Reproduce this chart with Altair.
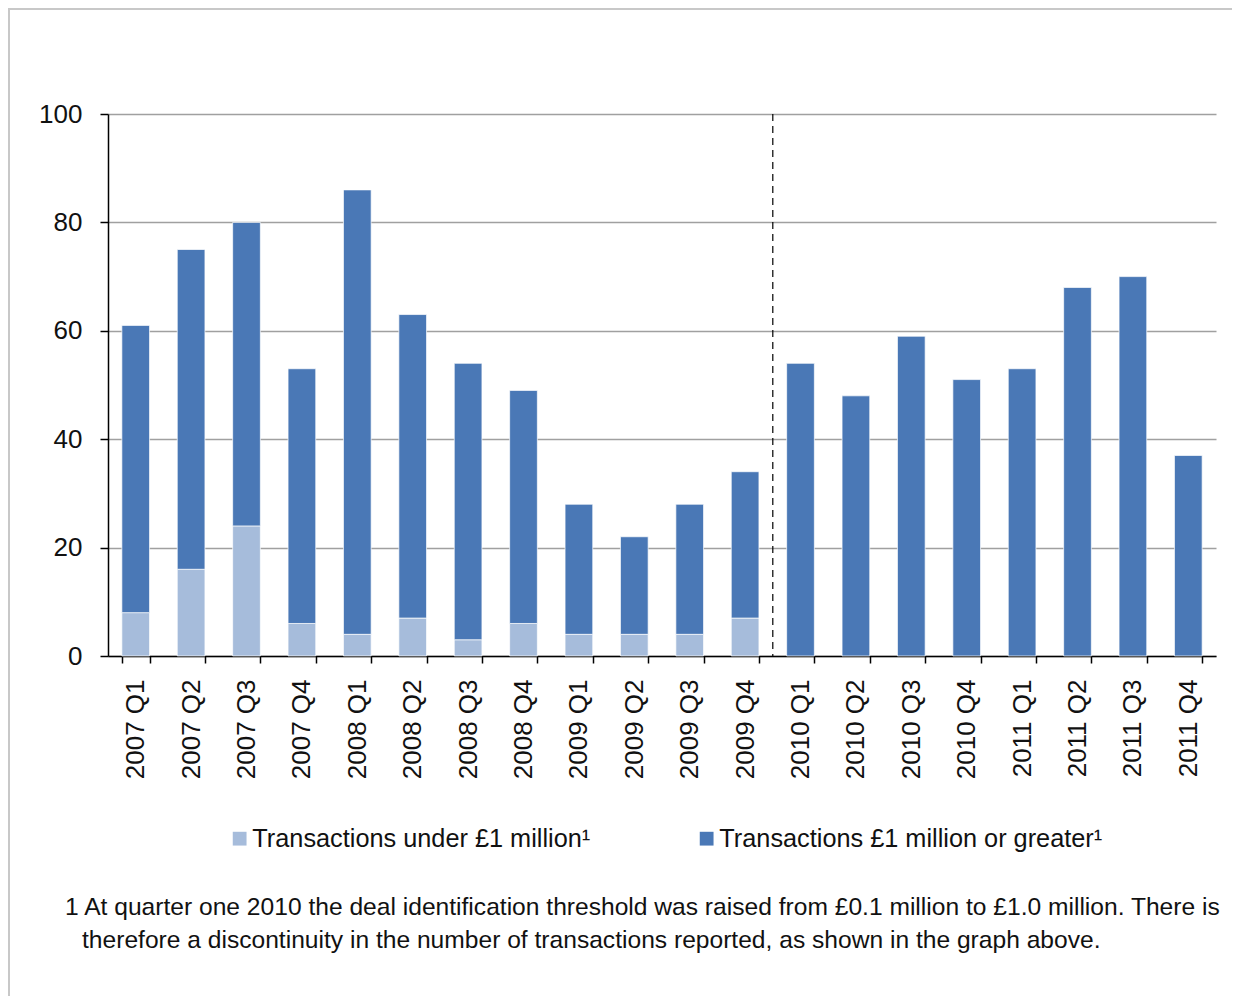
import altair as alt
import pandas as pd

quarters = ["2007 Q1", "2007 Q2", "2007 Q3", "2007 Q4",
            "2008 Q1", "2008 Q2", "2008 Q3", "2008 Q4",
            "2009 Q1", "2009 Q2", "2009 Q3", "2009 Q4",
            "2010 Q1", "2010 Q2", "2010 Q3", "2010 Q4",
            "2011 Q1", "2011 Q2", "2011 Q3", "2011 Q4"]
under_1m = [8, 16, 24, 6, 4, 7, 3, 6, 4, 4, 4, 7,
            None, None, None, None, None, None, None, None]
over_1m = [53, 59, 56, 47, 82, 56, 51, 43, 24, 18, 24, 27,
           54, 48, 59, 51, 53, 68, 70, 37]
series_names = ["Transactions under £1 million¹", "Transactions £1 million or greater¹"]
series_colors = ["#a6bcdb", "#4a78b6"]
y_ticks = [0, 20, 40, 60, 80, 100]
footnote_lines = [
    "1 At quarter one 2010 the deal identification threshold was raised from £0.1 million to £1.0 million. There is",
    "therefore a discontinuity in the number of transactions reported, as shown in the graph above.",
]
break_quarter = "2009 Q4"

rows = []
for q, u, o in zip(quarters, under_1m, over_1m):
    if u is not None:
        rows.append({"quarter": q, "series": series_names[0], "value": u, "ord": 0})
    rows.append({"quarter": q, "series": series_names[1], "value": o, "ord": 1})
df = pd.DataFrame(rows)

W, H = 1108, 542
FONT = "Liberation Sans"
STEP = W / len(quarters)

xscale = alt.Scale(domain=quarters, paddingInner=0.5, paddingOuter=0.25)

bars = alt.Chart(df).mark_bar(stroke="white", strokeWidth=1, strokeOpacity=0.7).encode(
    x=alt.X("quarter:N", scale=xscale, sort=quarters,
            axis=alt.Axis(title=None, labelAngle=-90, labelAlign="right", labelBaseline="middle",
                          labelFontSize=26, labelPadding=16, tickBand="extent",
                          tickSize=7, tickColor="black", domainColor="black", domainWidth=1.5,
                          tickWidth=1.5, labelColor="#111111", labelFont=FONT)),
    y=alt.Y("value:Q", stack="zero", scale=alt.Scale(domain=[0, 100], nice=False),
            axis=alt.Axis(title=None, values=y_ticks, grid=True, gridColor="#a0a0a0", gridWidth=1.5,
                          tickSize=8, tickColor="black", domainColor="black", domainWidth=1.5,
                          tickWidth=1.5, labelFontSize=26, labelPadding=18, labelColor="#111111",
                          labelFont=FONT)),
    color=alt.Color("series:N", scale=alt.Scale(domain=series_names, range=series_colors),
                    legend=alt.Legend(title=None, orient="none", legendX=119, legendY=712,
                                      direction="horizontal", symbolType="square", symbolSize=190,
                                      symbolStrokeWidth=0, labelFontSize=25.3, labelFont=FONT,
                                      labelColor="#111111", columnPadding=103, labelOffset=0,
                                      labelLimit=500)),
    order=alt.Order("ord:Q", sort="ascending"),
)

brk = alt.Chart(pd.DataFrame({"quarter": [break_quarter]})).mark_rule(
    color="black", strokeDash=[7, 5], strokeWidth=1.2, xOffset=STEP * 0.25
).encode(x=alt.X("quarter:N", scale=xscale, sort=quarters, bandPosition=1))

foot_df = pd.DataFrame({"line": footnote_lines, "px": [-43, -26], "py": [794, 827]})
foot = alt.Chart(foot_df).mark_text(
    align="left", baseline="middle", fontSize=24.6, font=FONT, color="#111111"
).encode(text="line:N", x=alt.X("px:Q", scale=None), y=alt.Y("py:Q", scale=None))

border = alt.Chart(pd.DataFrame({"a": [0]})).mark_rect(
    fill="transparent", stroke="#c8c8c8", strokeWidth=2
).encode(x=alt.value(-99), x2=alt.value(W + 60), y=alt.value(-105), y2=alt.value(H + 500))

chart = alt.layer(border, bars, brk, foot).properties(
    width=W, height=H,
    background="white",
    padding={"left": 100, "top": 106, "right": 16, "bottom": 340},
    autosize=alt.AutoSizeParams(type="none"),
).configure_view(strokeWidth=0, stroke="transparent")

chart.save("out.html", embed_options={"renderer": "svg", "actions": False})
